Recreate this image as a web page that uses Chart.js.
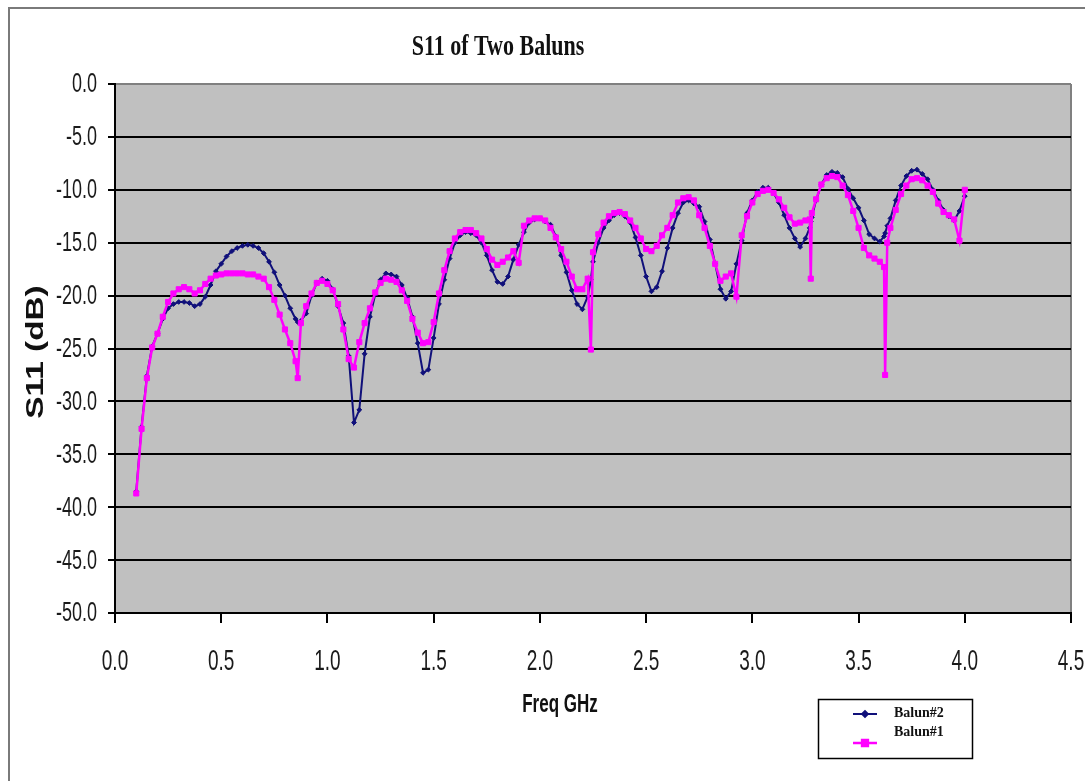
<!DOCTYPE html>
<html>
<head>
<meta charset="utf-8">
<title>S11 of Two Baluns</title>
<script src="https://cdn.jsdelivr.net/npm/chart.js@4.4.1/dist/chart.umd.min.js"></script>
<style>
  html, body { margin: 0; padding: 0; background: #fff; }
  canvas { display: block; }
</style>
</head>
<body>
<canvas id="s11Chart" width="1085" height="781"></canvas>
<script>
// Frequency sweep (GHz)
const freqGHz = [
  0.1, 0.125, 0.15, 0.175, 0.2, 0.225, 0.25, 0.275, 0.3, 0.325,
  0.35, 0.375, 0.4, 0.425, 0.45, 0.475, 0.5, 0.525, 0.55, 0.575,
  0.6, 0.625, 0.65, 0.675, 0.7, 0.725, 0.75, 0.775, 0.8, 0.825,
  0.85, 0.86, 0.875, 0.9, 0.925, 0.95, 0.975, 1.0, 1.025, 1.05,
  1.075, 1.1, 1.125, 1.15, 1.175, 1.2, 1.225, 1.25, 1.275, 1.3,
  1.325, 1.35, 1.375, 1.4, 1.425, 1.45, 1.475, 1.5, 1.525, 1.55,
  1.575, 1.6, 1.625, 1.65, 1.675, 1.7, 1.725, 1.75, 1.775, 1.8,
  1.825, 1.85, 1.875, 1.9, 1.925, 1.95, 1.975, 2.0, 2.025, 2.05,
  2.075, 2.1, 2.125, 2.15, 2.175, 2.2, 2.225, 2.24, 2.25, 2.275,
  2.3, 2.325, 2.35, 2.375, 2.4, 2.425, 2.45, 2.475, 2.5, 2.525,
  2.55, 2.575, 2.6, 2.625, 2.65, 2.675, 2.7, 2.725, 2.75, 2.775,
  2.8, 2.825, 2.85, 2.875, 2.9, 2.925, 2.95, 2.975, 3.0, 3.025,
  3.05, 3.075, 3.1, 3.125, 3.15, 3.175, 3.2, 3.225, 3.25, 3.27,
  3.275, 3.28, 3.3, 3.325, 3.35, 3.375, 3.4, 3.425, 3.45, 3.475,
  3.5, 3.525, 3.55, 3.575, 3.6, 3.62, 3.625, 3.635, 3.65, 3.675,
  3.7, 3.725, 3.75, 3.775, 3.8, 3.825, 3.85, 3.875, 3.9, 3.925,
  3.95, 3.975, 4.0,
]

// S11 of Balun#1 (dB)
const balun1 = [
  -38.7, -32.6, -27.8, -24.9, -23.6, -22.0, -20.6, -19.8, -19.4, -19.2,
  -19.4, -19.8, -19.5, -18.9, -18.4, -18.1, -18.0, -17.9, -17.9, -17.9,
  -17.9, -18.0, -18.0, -18.2, -18.4, -19.2, -20.4, -21.8, -23.2, -24.5,
  -26.2, -27.8, -22.6, -21.0, -19.8, -18.8, -18.6, -18.9, -19.5, -20.8,
  -23.2, -26.0, -26.8, -24.4, -22.6, -21.2, -19.7, -18.8, -18.4, -18.5,
  -18.7, -19.5, -20.5, -22.2, -23.5, -24.5, -24.4, -22.5, -19.8, -17.6,
  -15.8, -14.6, -14.0, -13.8, -13.8, -14.1, -14.6, -15.6, -16.6, -17.1,
  -16.8, -16.4, -15.8, -16.9, -13.4, -12.9, -12.7, -12.7, -12.9, -13.6,
  -14.5, -15.6, -16.8, -18.2, -19.4, -19.4, -18.4, -25.1, -15.9, -14.2,
  -13.1, -12.5, -12.2, -12.1, -12.3, -12.9, -13.6, -14.6, -15.6, -15.8,
  -15.3, -14.3, -13.6, -12.4, -11.2, -10.8, -10.7, -11.0, -12.4, -13.6,
  -15.3, -17.0, -18.6, -18.2, -17.9, -20.1, -14.3, -12.5, -11.2, -10.4,
  -10.1, -10.0, -10.3, -10.9, -11.7, -12.6, -13.2, -13.1, -12.9, -12.8,
  -18.4, -12.2, -10.9, -9.5, -8.9, -8.7, -8.8, -9.6, -10.5, -12.0,
  -13.6, -15.5, -16.2, -16.5, -16.8, -17.3, -27.5, -15.0, -13.6, -11.9,
  -10.4, -9.6, -9.0, -8.9, -9.1, -9.6, -10.2, -11.3, -12.1, -12.4,
  -12.8, -14.8, -10.0,
]

// S11 of Balun#2 (dB)
const balun2 = [
  -38.5, -32.4, -27.6, -24.8, -23.6, -22.2, -21.2, -20.8, -20.6, -20.6,
  -20.7, -21.0, -20.8, -20.1, -19.0, -17.7, -17.0, -16.3, -15.8, -15.5,
  -15.3, -15.2, -15.3, -15.5, -16.0, -16.8, -17.8, -19.0, -20.0, -21.2,
  -22.2, -22.5, -22.4, -21.7, -20.0, -18.8, -18.4, -18.6, -19.4, -21.0,
  -22.6, -25.7, -32.0, -30.8, -25.5, -22.0, -19.9, -18.5, -17.9, -18.0,
  -18.2, -19.0, -20.2, -22.0, -24.5, -27.3, -27.0, -24.0, -20.8, -18.5,
  -16.5, -15.0, -14.3, -14.0, -14.1, -14.3, -15.0, -16.2, -17.6, -18.7,
  -18.9, -18.2, -16.6, -15.2, -14.0, -13.1, -12.8, -12.7, -13.0, -13.3,
  -14.4, -16.2, -17.8, -19.5, -20.8, -21.3, -20.1, -18.5, -16.8, -15.0,
  -13.6, -12.9, -12.4, -12.2, -12.5, -13.1, -14.5, -16.2, -18.2, -19.6,
  -19.2, -17.7, -15.5, -13.6, -12.2, -11.2, -11.0, -11.3, -11.6, -13.0,
  -14.7, -17.0, -19.4, -20.3, -19.6, -17.0, -14.8, -12.2, -11.0, -10.2,
  -9.8, -9.8, -10.3, -11.2, -12.4, -13.6, -14.6, -15.4, -14.6, -13.6,
  -13.0, -12.6, -11.0, -9.5, -8.6, -8.3, -8.4, -8.8, -9.9, -10.8,
  -11.7, -12.9, -14.2, -14.6, -14.9, -14.4, -14.1, -13.4, -12.7, -11.0,
  -9.6, -8.7, -8.2, -8.1, -8.5, -9.0, -10.0, -11.0, -11.9, -12.5,
  -12.9, -12.0, -10.6,
]

// Axis ticks
const xTickValues = [0, 0.5, 1.0, 1.5, 2.0, 2.5, 3.0, 3.5, 4.0, 4.5]
const yTickValues = [0, -5, -10, -15, -20, -25, -30, -35, -40, -45, -50]

const toPoints = (values) => freqGHz.map((f, i) => ({ x: f, y: values[i] }))

// the old spreadsheet fonts render tall and narrow, so text gets a vertical stretch
const drawTallText = (ctx, text, x, y, font, align, sy) => {
  ctx.save()
  ctx.translate(x, y)
  ctx.scale(1, sy)
  ctx.font = font
  ctx.textAlign = align
  ctx.textBaseline = "middle"
  ctx.fillText(text, 0, 0)
  ctx.restore()
}

const SANS = '"Liberation Sans", Arial, sans-serif'
const SERIF = '"Liberation Serif", "Times New Roman", serif'

const framePlugin = {
  id: "framePlugin",
  beforeDraw(chart) {
    const { ctx, chartArea: a } = chart
    ctx.save()
    ctx.fillStyle = "#ffffff"
    ctx.fillRect(0, 0, chart.width, chart.height)

    // outer chart border
    ctx.strokeStyle = "#7a7a7a"
    ctx.lineWidth = 2
    ctx.beginPath()
    ctx.moveTo(9, chart.height)
    ctx.lineTo(9, 8)
    ctx.lineTo(chart.width, 8)
    ctx.stroke()

    // plot area
    ctx.fillStyle = "#c0c0c0"
    ctx.fillRect(a.left, a.top, a.right - a.left, a.bottom - a.top)
    ctx.strokeStyle = "#808080"
    ctx.beginPath()
    ctx.moveTo(a.right, a.top)
    ctx.lineTo(a.right, a.bottom)
    ctx.stroke()
    ctx.restore()
  },
  afterDraw(chart) {
    const { ctx } = chart
    const xs = chart.scales.x
    const ys = chart.scales.y
    ctx.save()
    ctx.fillStyle = "#1a1a1a"

    // tick labels
    xs.ticks.forEach((t, i) => {
      drawTallText(ctx, t.value.toFixed(1), xs.getPixelForTick(i), 662, "19px " + SANS, "center", 1.55)
    })
    ys.ticks.forEach((t, i) => {
      drawTallText(ctx, t.value.toFixed(1), 97, ys.getPixelForTick(i) + 1, "18px " + SANS, "right", 1.5)
    })

    // titles
    ctx.fillStyle = "#111"
    drawTallText(ctx, "S11 of Two Baluns", 498, 47, "bold 22px " + SERIF, "center", 1.35)
    drawTallText(ctx, "Freq GHz", 560, 705, "bold 17px " + SANS, "center", 1.5)

    ctx.save()
    ctx.translate(37, 352)
    ctx.rotate(-Math.PI / 2)
    ctx.scale(1.45, 1)
    ctx.font = "bold 23px " + SANS
    ctx.textAlign = "center"
    ctx.textBaseline = "middle"
    ctx.fillText("S11 (dB)", 0, 0)
    ctx.restore()

    // legend box
    ctx.fillStyle = "#fff"
    ctx.fillRect(818, 699, 154, 59)
    ctx.strokeStyle = "#000"
    ctx.lineWidth = 1.5
    ctx.strokeRect(818.5, 699.5, 154, 59)

    const rows = [
      { ds: chart.data.datasets[0], lineY: 714, textY: 713 },
      { ds: chart.data.datasets[1], lineY: 743, textY: 732 },
    ]
    rows.forEach(({ ds, lineY, textY }) => {
      ctx.strokeStyle = ds.borderColor
      ctx.lineWidth = ds.borderWidth
      ctx.beginPath()
      ctx.moveTo(853, lineY)
      ctx.lineTo(877, lineY)
      ctx.stroke()
      ctx.fillStyle = ds.pointBackgroundColor
      ctx.strokeStyle = ds.pointBorderColor
      Chart.helpers.drawPoint(ctx, {
        pointStyle: ds.pointStyle,
        radius: ds.pointRadius + 0.5,
        rotation: 0,
        borderWidth: 1,
      }, 865, lineY)
      ctx.fillStyle = "#111"
      drawTallText(ctx, ds.label, 894, textY, "bold 14px " + SERIF, "left", 1.1)
    })
    ctx.restore()
  },
}

const ctx = document.getElementById("s11Chart").getContext("2d")
new Chart(ctx, {
  type: "line",
  data: {
    datasets: [
      {
        label: "Balun#2",
        data: toPoints(balun2),
        borderColor: "#10107a",
        borderWidth: 2,
        pointStyle: "rectRot",
        pointRadius: 2.4,
        pointBackgroundColor: "#10107a",
        pointBorderColor: "#10107a",
        pointBorderWidth: 1,
        tension: 0,
        order: 1,
      },
      {
        label: "Balun#1",
        data: toPoints(balun1),
        borderColor: "#ff00ff",
        borderWidth: 2.5,
        pointStyle: "rect",
        pointRadius: 3.6,
        pointBackgroundColor: "#ff00ff",
        pointBorderColor: "#ff00ff",
        pointBorderWidth: 1,
        tension: 0,
        order: 0,
      },
    ],
  },
  options: {
    responsive: false,
    devicePixelRatio: 1,
    animation: false,
    layout: { padding: { left: 8, right: 14, top: 84, bottom: 0 } },
    plugins: {
      legend: { display: false },
      title: { display: false },
      tooltip: { enabled: false },
    },
    scales: {
      x: {
        type: "linear",
        min: 0,
        max: 4.5,
        afterBuildTicks: (s) => {
          s.ticks = xTickValues.map((v) => ({ value: v }))
        },
        afterFit: (s) => {
          s.height = 168
          s.paddingLeft = 0
          s.paddingRight = 0
        },
        ticks: { display: false },
        grid: {
          drawOnChartArea: false,
          drawTicks: true,
          tickLength: 10,
          tickColor: "#000",
          lineWidth: 2,
        },
        border: { display: true, color: "#000", width: 2 },
      },
      y: {
        type: "linear",
        min: -50,
        max: 0,
        afterBuildTicks: (s) => {
          s.ticks = yTickValues.map((v) => ({ value: v }))
        },
        afterFit: (s) => {
          s.width = 107
          s.paddingTop = 0
          s.paddingBottom = 0
        },
        ticks: { display: false },
        grid: {
          color: (c) => (c.tick && c.tick.value === 0 ? "#808080" : "#000"),
          lineWidth: 2,
          drawTicks: true,
          tickLength: 7,
          tickColor: "#000",
        },
        border: { display: true, color: "#000", width: 2 },
      },
    },
  },
  plugins: [framePlugin],
})
</script>
</body>
</html>
